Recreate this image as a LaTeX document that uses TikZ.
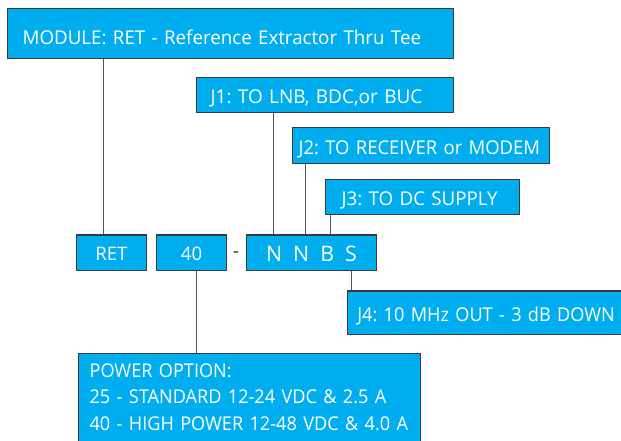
\documentclass[tikz,border=0pt]{standalone}
\usepackage{fontspec}
\setmainfont{Open Sans}
\newfontfamily\fosA[FakeStretch=0.955]{Open Sans}
\newfontfamily\fosB[FakeStretch=0.972]{Open Sans}
\newfontfamily\fosC[FakeStretch=0.987]{Open Sans}
\definecolor{boxfill}{HTML}{00AEEF}
\definecolor{boxedge}{HTML}{3A3A3A}
\definecolor{wirecol}{HTML}{555555}
\newcommand\fntMain{\fontsize{19}{26.5}\selectfont}
\newcommand\fntSmall{\fontsize{18.6}{22}\selectfont}
\newcommand\fntBig{\fontsize{21.4}{24}\selectfont}
\frenchspacing
\begin{document}
\frenchspacing
\begin{tikzpicture}[x=1pt,y=-1pt,
  box/.style={draw=boxedge, fill=boxfill, text=white, line width=1.2pt,
    anchor=north west, inner ysep=0pt, font=\fntMain},
  lbox/.style={box, align=left, text height=17pt, text depth=0pt},
  cbox/.style={box, inner xsep=0pt, text height=15pt, text depth=0pt},
  wire/.style={draw=wirecol, line width=1pt}]
\clip (0,0) rectangle (621,440);
\useasboundingbox (0,0) rectangle (621,440);

\node[lbox, inner xsep=15pt, text width=416pt, minimum height=50pt, text height=22pt] (mod) at (7,8)
  {\mbox{\fosC\frenchspacing MODULE: RET - Reference Extractor Thru Tee}};
\node[lbox, inner xsep=14pt, text width=229pt, minimum height=35pt] (j1) at (196,77)
  {\mbox{J1: TO LNB, BDC,or BUC}};
\node[lbox, inner xsep=6pt, text width=245pt, minimum height=36pt] (j2) at (292,127)
  {\mbox{\fosB\frenchspacing J2: TO RECEIVER or MODEM}};
\node[lbox, inner xsep=16pt, text width=162pt, minimum height=35pt] (j3) at (325,179)
  {\mbox{\fosC\frenchspacing J3: TO DC SUPPLY}};

\node[cbox, font=\fntSmall, minimum width=70.3pt, minimum height=35.7pt] (ret) at (75.7,234.3) {RET};
\node[cbox, font=\fntSmall, minimum width=70pt, minimum height=35.7pt] (forty) at (156,234.3) {40};
\node[text=boxedge, font=\fntMain, inner sep=0pt, anchor=base] (dash) at (236,257) {-};
\node[cbox, font=\fntBig, minimum width=129.7pt, minimum height=35.7pt, text height=17pt] (code) at (246,234.3)
  {N\hspace{11pt}N\hspace{11pt}B\hspace{11pt}S};

\node[lbox, inner xsep=9.7pt, text width=300pt, minimum height=43.4pt] (j4) at (347,290.3)
  {\mbox{\fosA\frenchspacing J4: 10 MHz OUT - 3 dB DOWN}};

\node[box, align=left, inner xsep=11pt, inner ysep=10pt, text width=319.5pt, font=\fntMain\fosA] (pow) at (78,353)
  {\mbox{POWER OPTION:}\\
   \mbox{25 - STANDARD 12-24 VDC \& 2.5 A}\\
   \mbox{40 - HIGH POWER 12-48 VDC \& 4.0 A}\rule[-20pt]{0pt}{20pt}};

\coordinate (xa) at (103,0);
\coordinate (xb) at (273.7,0);
\coordinate (xc) at (305.3,0);
\coordinate (xd) at (330,0);
\coordinate (xe) at (351.7,0);
\coordinate (xf) at (196,0);
\draw[wire] (mod.south -| xa) -- (ret.north -| xa);
\draw[wire] (j1.south -| xb) -- (code.north -| xb);
\draw[wire] (j2.south -| xc) -- (code.north -| xc);
\draw[wire] (j3.south -| xd) -- (code.north -| xd);
\draw[wire] (code.south -| xe) -- (j4.north -| xe);
\draw[wire] (forty.south -| xf) -- (pow.north -| xf);
\end{tikzpicture}
\end{document}
